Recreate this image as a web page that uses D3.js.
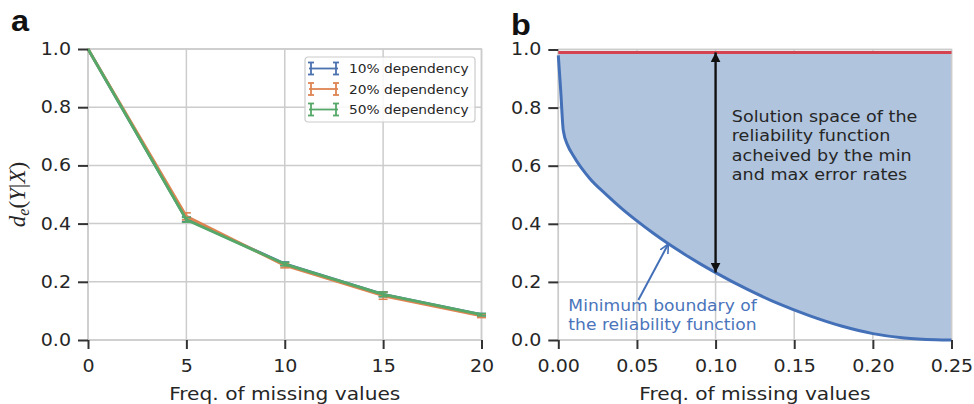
<!DOCTYPE html>
<html>
<head>
<meta charset="utf-8">
<script src="https://cdn.jsdelivr.net/npm/d3@7/dist/d3.min.js"></script>
<style>
  html, body { margin: 0; padding: 0; background: #fff; }
  svg { display: block; }
</style>
</head>
<body>
<svg id="fig" width="974" height="404"></svg>
<script>
// ---- Panel a: reliability vs. frequency of missing values ----
const freqA = [0, 5, 10, 15, 20];
const seriesNames = ["10% dependency", "20% dependency", "50% dependency"];
const dep10 = [1.0, 0.415, 0.262, 0.157, 0.087];
const dep20 = [1.0, 0.425, 0.256, 0.152, 0.083];
const dep50 = [1.0, 0.413, 0.261, 0.157, 0.087];
const err10 = [0.0, 0.008, 0.006, 0.008, 0.004];
const err20 = [0.0, 0.012, 0.008, 0.012, 0.006];
const err50 = [0.0, 0.008, 0.006, 0.008, 0.004];
const xTicksA = [0, 5, 10, 15, 20];
const yTicks = [0.0, 0.2, 0.4, 0.6, 0.8, 1.0];

// ---- Panel b: solution space of the reliability function ----
const freqB = [0, 0.0015, 0.0032, 0.006, 0.0095, 0.02, 0.03, 0.04, 0.05, 0.06, 0.07, 0.08, 0.09, 0.10,
               0.12, 0.14, 0.16, 0.18, 0.20, 0.22, 0.24, 0.25];
const minBoundary = [0.98, 0.86, 0.72, 0.67, 0.635, 0.556, 0.503, 0.454, 0.41, 0.369, 0.331, 0.296, 0.263, 0.232,
                     0.175, 0.125, 0.083, 0.048, 0.022, 0.007, 0.001, 0.0];
const maxBoundary = 0.99;
const xTicksB = [0.00, 0.05, 0.10, 0.15, 0.20, 0.25];
const solutionText = ["Solution space of the", "reliability function", "acheived by the min", "and max error rates"];
const boundaryText = ["Minimum boundary of", "the reliability function"];

const colors = ["#4c72b0", "#dd8452", "#55a868"];
const TEXT = "#262626";
const GRID = "#cccccc";
const SX = 1.12;   // horizontal glyph stretch
const FONT = "DejaVu Sans, Verdana, sans-serif";

const svg = d3.select("#fig");
svg.append("rect").attr("width", 974).attr("height", 404).attr("fill", "#fff");

function label(parent, x, y, s, size, opts = {}) {
  return parent.append("text")
    .attr("transform", `translate(${x},${y}) scale(${SX},1)`)
    .attr("font-family", opts.family || FONT)
    .attr("font-size", size)
    .attr("font-weight", opts.weight || "normal")
    .attr("fill", opts.fill || TEXT)
    .attr("text-anchor", opts.anchor || "start")
    .text(s);
}

function frame(g, x, y, xTicks, yTicks) {
  const [x0, x1] = x.range(), [y0, y1] = y.range();
  g.append("g").selectAll("line").data(xTicks).join("line")
    .attr("x1", d => x(d)).attr("x2", d => x(d)).attr("y1", y0).attr("y2", y1)
    .attr("stroke", GRID).attr("stroke-width", 1.5);
  g.append("g").selectAll("line").data(yTicks).join("line")
    .attr("x1", x0).attr("x2", x1).attr("y1", d => y(d)).attr("y2", d => y(d))
    .attr("stroke", GRID).attr("stroke-width", 1.5);
}

function spines(g, x, y) {
  const [x0, x1] = x.range(), [y0, y1] = y.range();
  g.append("rect").attr("x", x0).attr("y", y1).attr("width", x1 - x0).attr("height", y0 - y1)
    .attr("fill", "none").attr("stroke", GRID).attr("stroke-width", 1.5);
}

function axes(g, x, y, xTicks, xFmt, yTicks) {
  const [y0] = y.range();
  const [x0] = x.range();
  const ax = g.append("g").attr("transform", `translate(0,${y0})`)
    .call(d3.axisBottom(x).tickValues(xTicks).tickFormat(xFmt).tickSize(9).tickPadding(11));
  const ay = g.append("g").attr("transform", `translate(${x0},0)`)
    .call(d3.axisLeft(y).tickValues(yTicks).tickFormat(d3.format(".1f")).tickSize(10).tickPadding(7));
  [ax, ay].forEach(a => {
    a.select(".domain").remove();
    a.selectAll(".tick line").attr("stroke", "#333").attr("stroke-width", 2);
    a.selectAll(".tick text").attr("fill", TEXT).attr("font-family", FONT).attr("font-size", 17)
      .attr("transform", `scale(${SX},1)`);
  });
  ay.selectAll(".tick text").attr("x", -17 / SX);
}

// ================= Panel a =================
const gA = svg.append("g");
const xA = d3.scaleLinear().domain([0, 20]).range([88, 481.5]);
const yA = d3.scaleLinear().domain([0, 1]).range([340, 49]);
frame(gA, xA, yA, xTicksA, yTicks);
spines(gA, xA, yA);

const seriesA = [
  { name: seriesNames[0], v: dep10, e: err10, c: colors[0] },
  { name: seriesNames[1], v: dep20, e: err20, c: colors[1] },
  { name: seriesNames[2], v: dep50, e: err50, c: colors[2] }
];
const lineA = d3.line().x((d, i) => xA(freqA[i])).y(d => yA(d));
seriesA.forEach(s => {
  gA.append("path").datum(s.v).attr("d", lineA)
    .attr("fill", "none").attr("stroke", s.c).attr("stroke-width", 2.8).attr("stroke-linejoin", "round");
  const eb = gA.append("g").attr("stroke", s.c).attr("stroke-width", 1.6);
  freqA.forEach((f, i) => {
    if (s.e[i] <= 0) return;
    const cx = xA(f), lo = yA(s.v[i] - s.e[i]), hi = yA(s.v[i] + s.e[i]);
    eb.append("line").attr("x1", cx).attr("x2", cx).attr("y1", lo).attr("y2", hi);
    eb.append("line").attr("x1", cx - 4.5).attr("x2", cx + 4.5).attr("y1", lo).attr("y2", lo);
    eb.append("line").attr("x1", cx - 4.5).attr("x2", cx + 4.5).attr("y1", hi).attr("y2", hi);
  });
});
axes(gA, xA, yA, xTicksA, d3.format("d"), yTicks);

// legend
const leg = gA.append("g").attr("transform", "translate(305,57)");
leg.append("rect").attr("width", 170).attr("height", 65).attr("rx", 3)
  .attr("fill", "#fff").attr("fill-opacity", 0.85).attr("stroke", GRID).attr("stroke-width", 1.2);
seriesA.forEach((s, i) => {
  const cy = 11.5 + i * 20.5;
  const h = leg.append("g").attr("stroke", s.c).attr("stroke-width", 1.8);
  h.append("line").attr("x1", 4).attr("x2", 33).attr("y1", cy).attr("y2", cy);
  [6, 31].forEach(px => {
    h.append("line").attr("x1", px).attr("x2", px).attr("y1", cy - 6).attr("y2", cy + 6);
    h.append("line").attr("x1", px - 3).attr("x2", px + 3).attr("y1", cy - 6).attr("y2", cy - 6);
    h.append("line").attr("x1", px - 3).attr("x2", px + 3).attr("y1", cy + 6).attr("y2", cy + 6);
  });
  label(leg, 44, cy + 4.5, s.name, 12.3);
});

// axis titles
label(gA, (xA.range()[0] + xA.range()[1]) / 2, 400, "Freq. of missing values", 18, { anchor: "middle" });
const yl = gA.append("text")
  .attr("transform", `translate(25,${(yA.range()[0] + yA.range()[1]) / 2}) rotate(-90)`)
  .attr("text-anchor", "middle").attr("fill", TEXT)
  .attr("font-family", "Liberation Serif, Times New Roman, serif").attr("font-size", 23);
yl.append("tspan").attr("font-style", "italic").text("d");
yl.append("tspan").attr("font-style", "italic").attr("font-size", 16).attr("dy", 4).text("e");
yl.append("tspan").attr("dy", -4).text("(");
yl.append("tspan").attr("font-style", "italic").text("Y");
yl.append("tspan").text("|");
yl.append("tspan").attr("font-style", "italic").text("X");
yl.append("tspan").text(")");

label(svg, 11, 31, "a", 29, { weight: "bold", family: "Liberation Sans, Arial, sans-serif", fill: "#111" });

// ================= Panel b =================
const gB = svg.append("g");
const xB = d3.scaleLinear().domain([0, 0.25]).range([558.3, 951.5]);
const yB = d3.scaleLinear().domain([0, 1]).range([340, 49.5]);
frame(gB, xB, yB, xTicksB, yTicks);

const ptsB = freqB.map((f, i) => [f, minBoundary[i]]);
gB.append("path").datum(ptsB)
  .attr("d", d3.area().x(d => xB(d[0])).y0(yB(maxBoundary)).y1(d => yB(d[1])).curve(d3.curveMonotoneX))
  .attr("fill", "#b0c4de");
spines(gB, xB, yB);
gB.append("path").datum(ptsB)
  .attr("d", d3.line().x(d => xB(d[0])).y(d => yB(d[1])).curve(d3.curveMonotoneX))
  .attr("fill", "none").attr("stroke", "#4470b8").attr("stroke-width", 3);
gB.append("line")
  .attr("x1", xB(0)).attr("x2", xB(0.25)).attr("y1", yB(maxBoundary)).attr("y2", yB(maxBoundary))
  .attr("stroke", "#d4434f").attr("stroke-width", 3);
axes(gB, xB, yB, xTicksB, d3.format(".2f"), yTicks);

// double-headed arrow spanning the solution space at x = 0.10
const defs = svg.append("defs");
defs.append("marker").attr("id", "headBlack").attr("viewBox", "0 0 10 10")
  .attr("refX", 10).attr("refY", 5).attr("markerWidth", 4.2).attr("markerHeight", 4.2)
  .attr("markerUnits", "strokeWidth").attr("orient", "auto-start-reverse")
  .append("path").attr("d", "M0,0 L10,5 L0,10 z").attr("fill", "#111");
const xArrow = 0.10;
const yArrowLow = minBoundary[freqB.indexOf(xArrow)];
gB.append("line")
  .attr("x1", xB(xArrow)).attr("x2", xB(xArrow))
  .attr("y1", yB(maxBoundary)).attr("y2", yB(yArrowLow))
  .attr("stroke", "#111").attr("stroke-width", 2.4)
  .attr("marker-start", "url(#headBlack)").attr("marker-end", "url(#headBlack)");

solutionText.forEach((t, i) => label(gB, xB(0.1103), yB(0.75) + i * 19.3, t, 15.7));

// pointer to the minimum boundary curve
defs.append("marker").attr("id", "headBlue").attr("viewBox", "0 0 10 10")
  .attr("refX", 9.5).attr("refY", 5).attr("markerWidth", 5).attr("markerHeight", 5)
  .attr("markerUnits", "strokeWidth").attr("orient", "auto")
  .append("path").attr("d", "M0,0.5 L9.5,5 L0,9.5").attr("fill", "none")
  .attr("stroke", "#4470b8").attr("stroke-width", 1.6);
const xPoint = 0.07;
gB.append("line")
  .attr("x1", xB(0.0509)).attr("y1", yB(0.138))
  .attr("x2", xB(xPoint)).attr("y2", yB(minBoundary[freqB.indexOf(xPoint)]))
  .attr("stroke", "#4470b8").attr("stroke-width", 2).attr("marker-end", "url(#headBlue)");
boundaryText.forEach((t, i) => label(gB, xB(0.0064), yB(0.101) + i * 19, t, 15.3, { fill: "#4a74bb" }));

label(gB, (xB.range()[0] + xB.range()[1]) / 2, 400, "Freq. of missing values", 18, { anchor: "middle" });
label(svg, 511, 34.5, "b", 29, { weight: "bold", family: "Liberation Sans, Arial, sans-serif", fill: "#111" });
</script>
</body>
</html>
